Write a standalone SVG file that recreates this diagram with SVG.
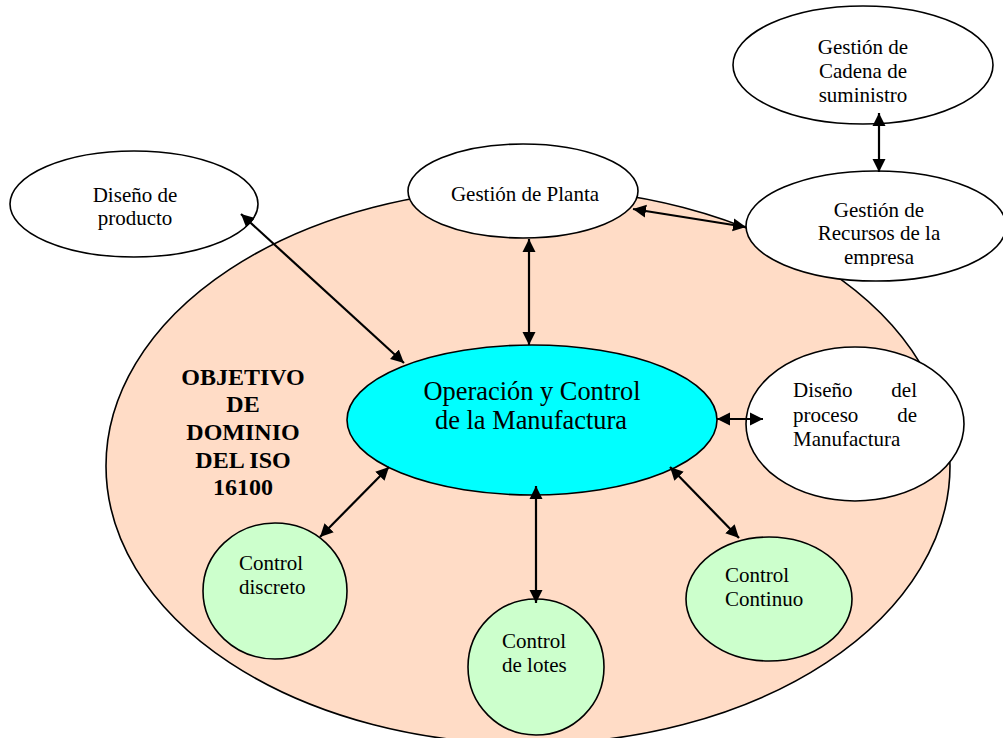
<svg xmlns="http://www.w3.org/2000/svg" width="1003" height="738" viewBox="0 0 1003 738">
<style>
.n{stroke:#000;stroke-width:1.6}
.w{fill:#fff}
.g{fill:#CCFFCC}
.t{font-family:"Liberation Serif","Times New Roman",serif;font-size:21px;fill:#000}
.m{text-anchor:middle}
.big{font-size:26.4px}
.b{font-weight:bold;font-size:24px}
.c line{stroke:#000;stroke-width:2.2;marker-start:url(#ah);marker-end:url(#ah)}
</style>
<defs>
<marker id="ah" markerUnits="userSpaceOnUse" markerWidth="14" markerHeight="14" refX="13" refY="6.5" orient="auto-start-reverse" viewBox="0 0 14 13">
<path d="M0,0 L13,6.5 L0,13 z" fill="#000"/>
</marker>
<clipPath id="clipR"><rect x="740" y="160" width="263" height="106"/></clipPath>
</defs>
<rect x="0" y="0" width="1003" height="738" fill="#fff"/>

<g id="dominio">
<ellipse class="n" cx="528" cy="466" rx="422" ry="278" fill="#FFDCC6"/>
<text class="t b m" x="243" y="385">OBJETIVO</text>
<text class="t b m" x="243" y="412">DE</text>
<text class="t b m" x="243" y="440">DOMINIO</text>
<text class="t b m" x="243" y="468">DEL ISO</text>
<text class="t b m" x="243" y="495">16100</text>
</g>

<g id="diseno-producto">
<ellipse class="n w" cx="134" cy="204" rx="124" ry="53"/>
<text class="t m" x="135" y="202">Diseño de</text>
<text class="t m" x="135" y="225">producto</text>
</g>

<g id="gestion-planta">
<ellipse class="n w" cx="523" cy="191" rx="115" ry="47"/>
<text class="t m" x="525" y="201">Gestión de Planta</text>
</g>

<g id="gestion-cadena">
<ellipse class="n w" cx="863" cy="65" rx="130" ry="59"/>
<text class="t m" x="863" y="54">Gestión de</text>
<text class="t m" x="863" y="78">Cadena de</text>
<text class="t m" x="863" y="102">suministro</text>
</g>

<g id="gestion-recursos">
<ellipse class="n w" cx="876" cy="226" rx="130" ry="55"/>
<g clip-path="url(#clipR)">
<text class="t m" x="879" y="217">Gestión de</text>
<text class="t m" x="879" y="240">Recursos de la</text>
<text class="t m" x="879" y="264">empresa</text>
</g>
</g>

<g id="operacion">
<ellipse class="n" cx="532" cy="420" rx="185" ry="75" fill="#00FFFF"/>
<text class="t big m" x="532" y="400">Operación y Control</text>
<text class="t big m" x="531" y="429">de la Manufactura</text>
</g>

<g id="diseno-proceso">
<ellipse class="n w" cx="855" cy="424" rx="109" ry="77"/>
<text class="t" x="793" y="397">Diseño</text>
<text class="t" x="917" y="397" text-anchor="end">del</text>
<text class="t" x="793" y="422">proceso</text>
<text class="t" x="917" y="422" text-anchor="end">de</text>
<text class="t" x="793" y="446">Manufactura</text>
</g>

<g id="control-discreto">
<ellipse class="n g" cx="275" cy="591" rx="72" ry="68"/>
<text class="t" x="239" y="570">Control</text>
<text class="t" x="239" y="594">discreto</text>
</g>

<g id="control-lotes">
<ellipse class="n g" cx="536" cy="667" rx="68" ry="68"/>
<text class="t" x="502" y="648">Control</text>
<text class="t" x="502" y="672">de lotes</text>
</g>

<g id="control-continuo">
<ellipse class="n g" cx="769" cy="599" rx="83" ry="62"/>
<text class="t" x="725" y="582">Control</text>
<text class="t" x="725" y="606">Continuo</text>
</g>

<g id="connectors" class="c">
<line x1="241" y1="214" x2="404" y2="363"/>
<line x1="529" y1="239" x2="529" y2="345"/>
<line x1="633" y1="209" x2="746" y2="227"/>
<line x1="879" y1="113" x2="879" y2="172"/>
<line x1="717" y1="419" x2="763" y2="419"/>
<line x1="389" y1="467" x2="320" y2="537"/>
<line x1="536" y1="486" x2="536" y2="603"/>
<line x1="670" y1="467" x2="739" y2="538"/>
</g>
</svg>
